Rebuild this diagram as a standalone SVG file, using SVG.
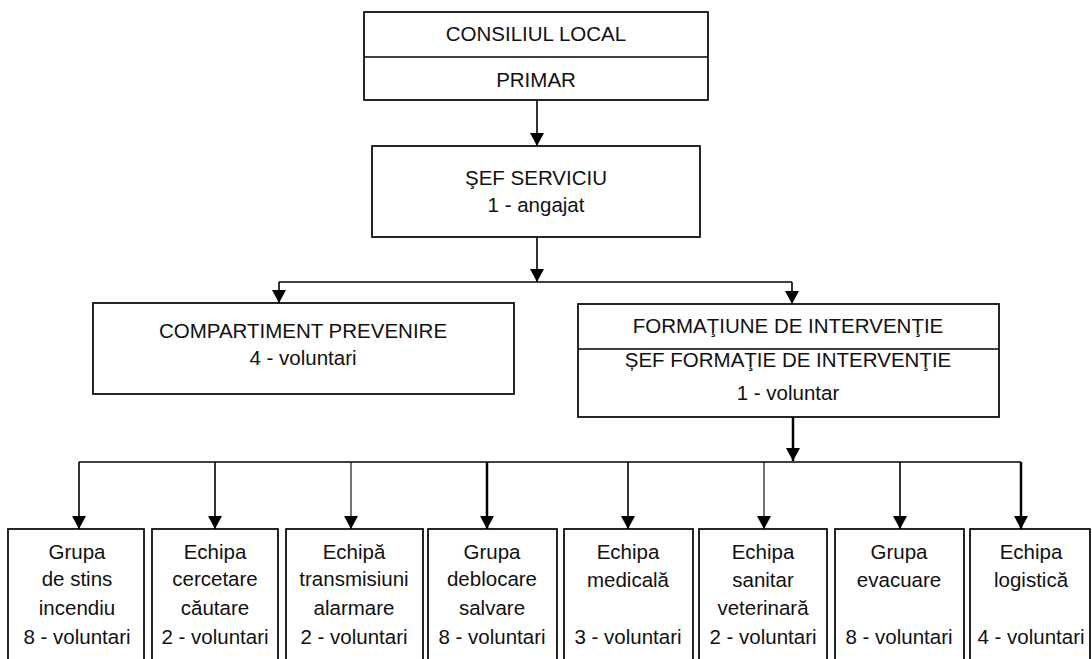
<svg xmlns="http://www.w3.org/2000/svg" width="1092" height="659" viewBox="0 0 1092 659">
<style>
  .box { fill: #fff; stroke: #000; stroke-width: 1.7; }
  .div { stroke: #000; stroke-width: 1.5; }
  .t { font-family: "Liberation Sans", Arial, sans-serif; font-size: 20.5px; fill: #111; text-anchor: middle; }
  .c { fill: none; stroke: #000; stroke-width: 1.6; }
  .thin { stroke-width: 1.1; }
  .thick { stroke-width: 2.5; }
</style>
<defs>
  <marker id="ah" viewBox="0 0 13 14" refX="13" refY="7" markerWidth="13" markerHeight="14" markerUnits="userSpaceOnUse" orient="auto">
    <path d="M0,0 L13,7 L0,14 Z" fill="#000"/>
  </marker>
</defs>
<rect width="1092" height="659" fill="#fff"/>

<g id="connectors">
  <path class="c" d="M537,100 V146" marker-end="url(#ah)"/>
  <path class="c" d="M537,237 V282" marker-end="url(#ah)"/>
  <path class="c" d="M279,282 H792"/>
  <path class="c" d="M279,282 V303" marker-end="url(#ah)"/>
  <path class="c" d="M792,282 V304" marker-end="url(#ah)"/>
  <path class="c thick" d="M793,417 V461" marker-end="url(#ah)"/>
  <path class="c" d="M79,462 H1021"/>
  <path class="c" d="M79,462 V529" marker-end="url(#ah)"/>
  <path class="c" d="M215,462 V529" marker-end="url(#ah)"/>
  <path class="c thin" d="M351,462 V529" marker-end="url(#ah)"/>
  <path class="c thick" d="M487,462 V529" marker-end="url(#ah)"/>
  <path class="c" d="M628,462 V529" marker-end="url(#ah)"/>
  <path class="c thin" d="M764,462 V529" marker-end="url(#ah)"/>
  <path class="c" d="M900,462 V529" marker-end="url(#ah)"/>
  <path class="c thick" d="M1021,462 V529" marker-end="url(#ah)"/>
</g>

<g id="consiliu">
  <rect class="box" x="364" y="12" width="344" height="88"/>
  <line class="div" x1="364" y1="57" x2="708" y2="57"/>
  <text class="t" x="536" y="41">CONSILIUL LOCAL</text>
  <text class="t" x="536" y="87">PRIMAR</text>
</g>

<g id="sef-serviciu">
  <rect class="box" x="372" y="146" width="328" height="91"/>
  <text class="t" x="536" y="185">ŞEF SERVICIU</text>
  <text class="t" x="536" y="212">1 - angajat</text>
</g>

<g id="compartiment">
  <rect class="box" x="93" y="303" width="421" height="91"/>
  <text class="t" x="303" y="338">COMPARTIMENT PREVENIRE</text>
  <text class="t" x="303" y="365">4 - voluntari</text>
</g>

<g id="formatiune">
  <rect class="box" x="578" y="304" width="421" height="113"/>
  <line class="div" x1="578" y1="349" x2="999" y2="349"/>
  <text class="t" x="788" y="333">FORMAŢIUNE DE INTERVENŢIE</text>
  <text class="t" x="788" y="367">ȘEF FORMAŢIE DE INTERVENŢIE</text>
  <text class="t" x="788" y="400">1 - voluntar</text>
</g>

<g id="grupa-stins">
  <rect class="box" x="8" y="529" width="136" height="140"/>
  <text class="t" x="77" y="559">Grupa</text>
  <text class="t" x="77" y="586">de stins</text>
  <text class="t" x="77" y="615">incendiu</text>
  <text class="t" x="77" y="644">8 - voluntari</text>
</g>

<g id="echipa-cercetare">
  <rect class="box" x="152" y="529" width="126" height="140"/>
  <text class="t" x="215" y="559">Echipa</text>
  <text class="t" x="215" y="586">cercetare</text>
  <text class="t" x="215" y="615">căutare</text>
  <text class="t" x="215" y="644">2 - voluntari</text>
</g>

<g id="echipa-transmisiuni">
  <rect class="box" x="286" y="529" width="137" height="140"/>
  <text class="t" x="354" y="559">Echipă</text>
  <text class="t" x="354" y="586">transmisiuni</text>
  <text class="t" x="354" y="615">alarmare</text>
  <text class="t" x="354" y="644">2 - voluntari</text>
</g>

<g id="grupa-deblocare">
  <rect class="box" x="428" y="529" width="129" height="140"/>
  <text class="t" x="492" y="559">Grupa</text>
  <text class="t" x="492" y="586">deblocare</text>
  <text class="t" x="492" y="615">salvare</text>
  <text class="t" x="492" y="644">8 - voluntari</text>
</g>

<g id="echipa-medicala">
  <rect class="box" x="564" y="529" width="129" height="140"/>
  <text class="t" x="628" y="559">Echipa</text>
  <text class="t" x="628" y="587">medicală</text>
  <text class="t" x="628" y="644">3 - voluntari</text>
</g>

<g id="echipa-sanitar">
  <rect class="box" x="699" y="529" width="128" height="140"/>
  <text class="t" x="763" y="559">Echipa</text>
  <text class="t" x="763" y="587">sanitar</text>
  <text class="t" x="763" y="615">veterinară</text>
  <text class="t" x="763" y="644">2 - voluntari</text>
</g>

<g id="grupa-evacuare">
  <rect class="box" x="835" y="529" width="129" height="140"/>
  <text class="t" x="899" y="559">Grupa</text>
  <text class="t" x="899" y="587">evacuare</text>
  <text class="t" x="899" y="644">8 - voluntari</text>
</g>

<g id="echipa-logistica">
  <rect class="box" x="970" y="529" width="120" height="140"/>
  <text class="t" x="1031" y="559">Echipa</text>
  <text class="t" x="1031" y="587">logistică</text>
  <text class="t" x="1031" y="644">4 - voluntari</text>
</g>
</svg>
